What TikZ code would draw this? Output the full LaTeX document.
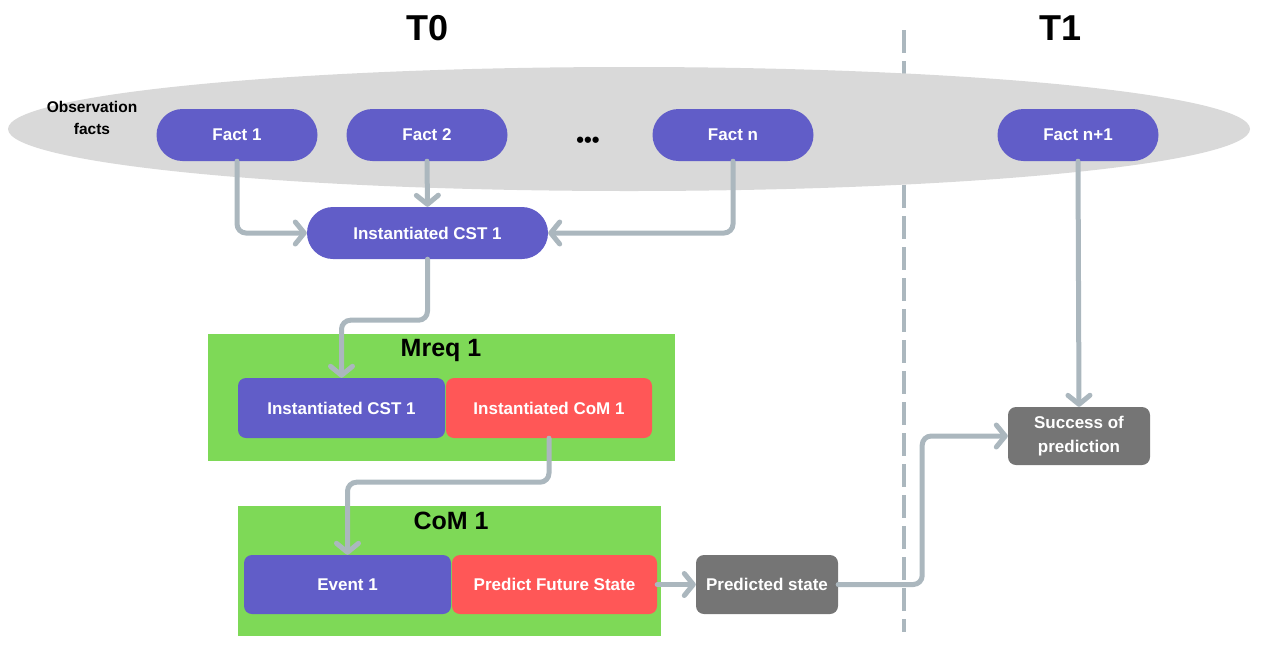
\documentclass[tikz,border=0pt]{standalone}
\usepackage{fontspec}
\setmainfont{Liberation Sans}
\usetikzlibrary{arrows.meta,shapes.geometric}
\definecolor{cpurple}{HTML}{615DC8}
\definecolor{cred}{HTML}{FF5757}
\definecolor{cgreen}{HTML}{7ED957}
\definecolor{cgraybox}{HTML}{757575}
\definecolor{carrow}{HTML}{ABB7BE}
\definecolor{cellipse}{HTML}{D9D9D9}
\tikzset{
  pill/.style={fill=cpurple, rounded corners=26pt, minimum width=161pt, minimum height=52pt, inner sep=0pt, text=white, font=\fontsize{17}{20}\selectfont\bfseries},
  boxp/.style={fill=cpurple, rounded corners=8pt, minimum width=207pt, minimum height=60pt, inner sep=0pt, text=white, font=\fontsize{17}{20}\selectfont\bfseries},
  boxr/.style={boxp, fill=cred},
  boxg/.style={fill=cgraybox, rounded corners=8pt, inner sep=0pt, text=white, align=center, font=\fontsize{17}{24}\selectfont\bfseries},
  panel/.style={fill=cgreen, inner sep=0pt},
  paneltitle/.style={font=\fontsize{25}{30}\selectfont\bfseries},
  bigtitle/.style={font=\fontsize{36}{40}\selectfont\bfseries},
  arr/.style={draw=carrow, line width=5pt, rounded corners=9pt, line cap=round,
    -{Straight Barb[length=9pt,width=22pt,line cap=round,line join=round]}},
  sarr/.style={arr, sharp corners},
  dashline/.style={draw=carrow, line width=4pt, dash pattern=on 23pt off 8pt},
}
\begin{document}
\begin{tikzpicture}[x=1pt,y=-1pt]
\useasboundingbox (0,0) rectangle (1261,649);
% titles
\node[bigtitle] (t0) at (428,28) {T0};
\node[bigtitle] (t1) at (1060,28) {T1};
% separator
\draw[dashline] (904,30) -- (904,632);
% observation ellipse
\node[ellipse, fill=cellipse, minimum width=1242pt, minimum height=124pt, inner sep=0pt] (obs) at (629,129) {};
\node[align=center, font=\fontsize{15.5}{22}\selectfont\bfseries] (obslabel) at (92,118) {Observation\\facts};
% facts
\node[pill] (f1) at (237,135) {Fact 1};
\node[pill] (f2) at (427,135) {Fact 2};
\node[font=\fontsize{22}{22}\selectfont\bfseries] (dots) at (588,142) {•••};
\node[pill] (fn) at (733,135) {Fact n};
\node[pill] (fn1) at (1078,135) {Fact n+1};
% CST pill
\node[pill, minimum width=241pt] (cst) at (427.5,233) {Instantiated CST 1};
% Mreq panel
\node[panel, minimum width=467pt, minimum height=127pt] (mreq) at (441.5,397.5) {};
\node[paneltitle] (mreqt) at (441,350) {Mreq 1};
\node[boxp] (mcst) at (341.5,408) {Instantiated CST 1};
\node[boxr, minimum width=206pt] (mcom) at (549,408) {Instantiated CoM 1};
% CoM panel
\node[panel, minimum width=423pt, minimum height=130pt] (com) at (449.5,571) {};
\node[paneltitle] (comt) at (451,521) {CoM 1};
\node[boxp, minimum height=59pt] (ev) at (347.5,584.5) {Event 1};
\node[boxr, minimum width=205pt, minimum height=59pt] (pfs) at (554.5,584.5) {Predict Future State};
% gray boxes
\node[boxg, minimum width=142pt, minimum height=59pt] (pred) at (767,584.5) {Predicted state};
\node[boxg, minimum width=142pt, minimum height=58pt] (succ) at (1079,436) {Success of\\prediction};
% connectors
\draw[arr] (f1.south) |- (cst.west);
\draw[sarr] (f2.south) -- (cst.north);
\draw[arr] (fn.south) |- (cst.east);
\draw[arr] (cst.south) -- ++(0,61) -| (mcst.north);
\draw[arr] (mcom.south) -- ++(0,44) -| (ev.north);
\draw[sarr] (pfs.east) -- (pred.west);
\draw[arr] (pred.east) -- ++(84,0) |- (succ.west);
\draw[sarr] (fn1.south) -- (succ.north);
\end{tikzpicture}
\end{document}
